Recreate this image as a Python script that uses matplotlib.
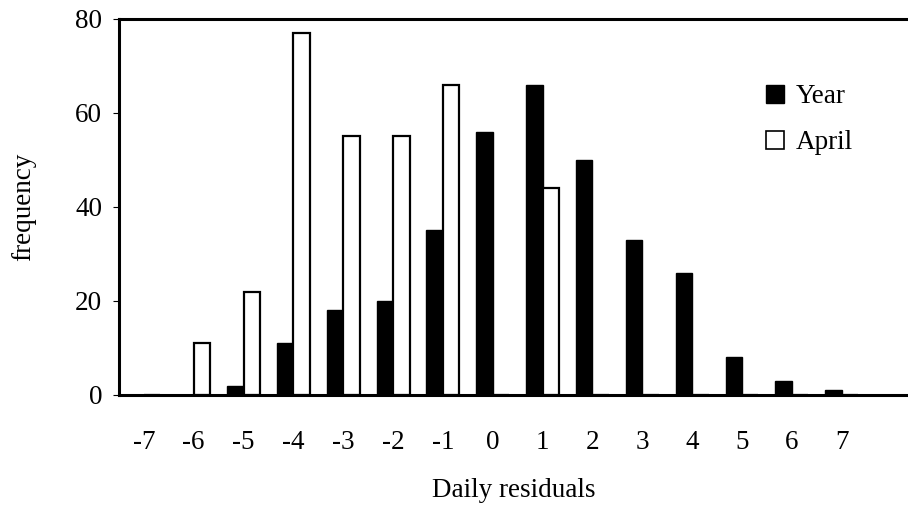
import numpy as np
import matplotlib
matplotlib.use("Agg")
import matplotlib.pyplot as plt
from matplotlib.patches import Patch

plt.rcParams['font.family'] = ['Liberation Serif', 'DejaVu Serif']

#%% data
residuals = [-7, -6, -5, -4, -3, -2, -1, 0, 1, 2, 3, 4, 5, 6, 7]
year = [0, 0, 2, 11, 18, 20, 35, 56, 66, 50, 33, 26, 8, 3, 1]
april = [0, 11, 22, 77, 55, 55, 66, 0, 44, 0, 0, 0, 0, 0, 0]

#%% plot
fig = plt.figure(figsize=(9.08, 5.09), dpi=100)
ax = fig.add_axes([0.131, 0.224, 0.869, 0.739])

x = np.array(residuals, dtype=float)
w = 0.33
ax.bar(x - w/2, year, width=w, color='black', edgecolor='black', linewidth=1.0)
ax.bar(x + w/2, april, width=w, color='white', edgecolor='black', linewidth=1.6)

ax.set_xlim(-7.5, 8.33)
ax.set_ylim(0, 80)
ax.set_xticks(x)
ax.set_xticklabels([str(r) for r in residuals])
ax.set_yticks([0, 20, 40, 60, 80])

for s in ['left', 'bottom', 'top']:
    ax.spines[s].set_linewidth(2.2)
ax.spines['right'].set_visible(False)

fs = 19.5
ax.tick_params(axis='x', length=0, pad=25, labelsize=fs)
ax.tick_params(axis='y', direction='out', length=4, width=0.8, pad=8, labelsize=fs)

ax.set_xlabel('Daily residuals', fontsize=fs, labelpad=17)
ax.set_ylabel('frequency', fontsize=fs, labelpad=28)

handles = [Patch(facecolor='black', edgecolor='black', label='Year'),
           Patch(facecolor='white', edgecolor='black', linewidth=1.2, label='April')]
ax.legend(handles=handles, loc='upper left', bbox_to_anchor=(0.803, 0.862),
          frameon=False, fontsize=fs, handlelength=0.65, handleheight=0.65,
          handletextpad=0.45, labelspacing=0.78, borderpad=0)

fig.savefig('out.png', dpi=100)
